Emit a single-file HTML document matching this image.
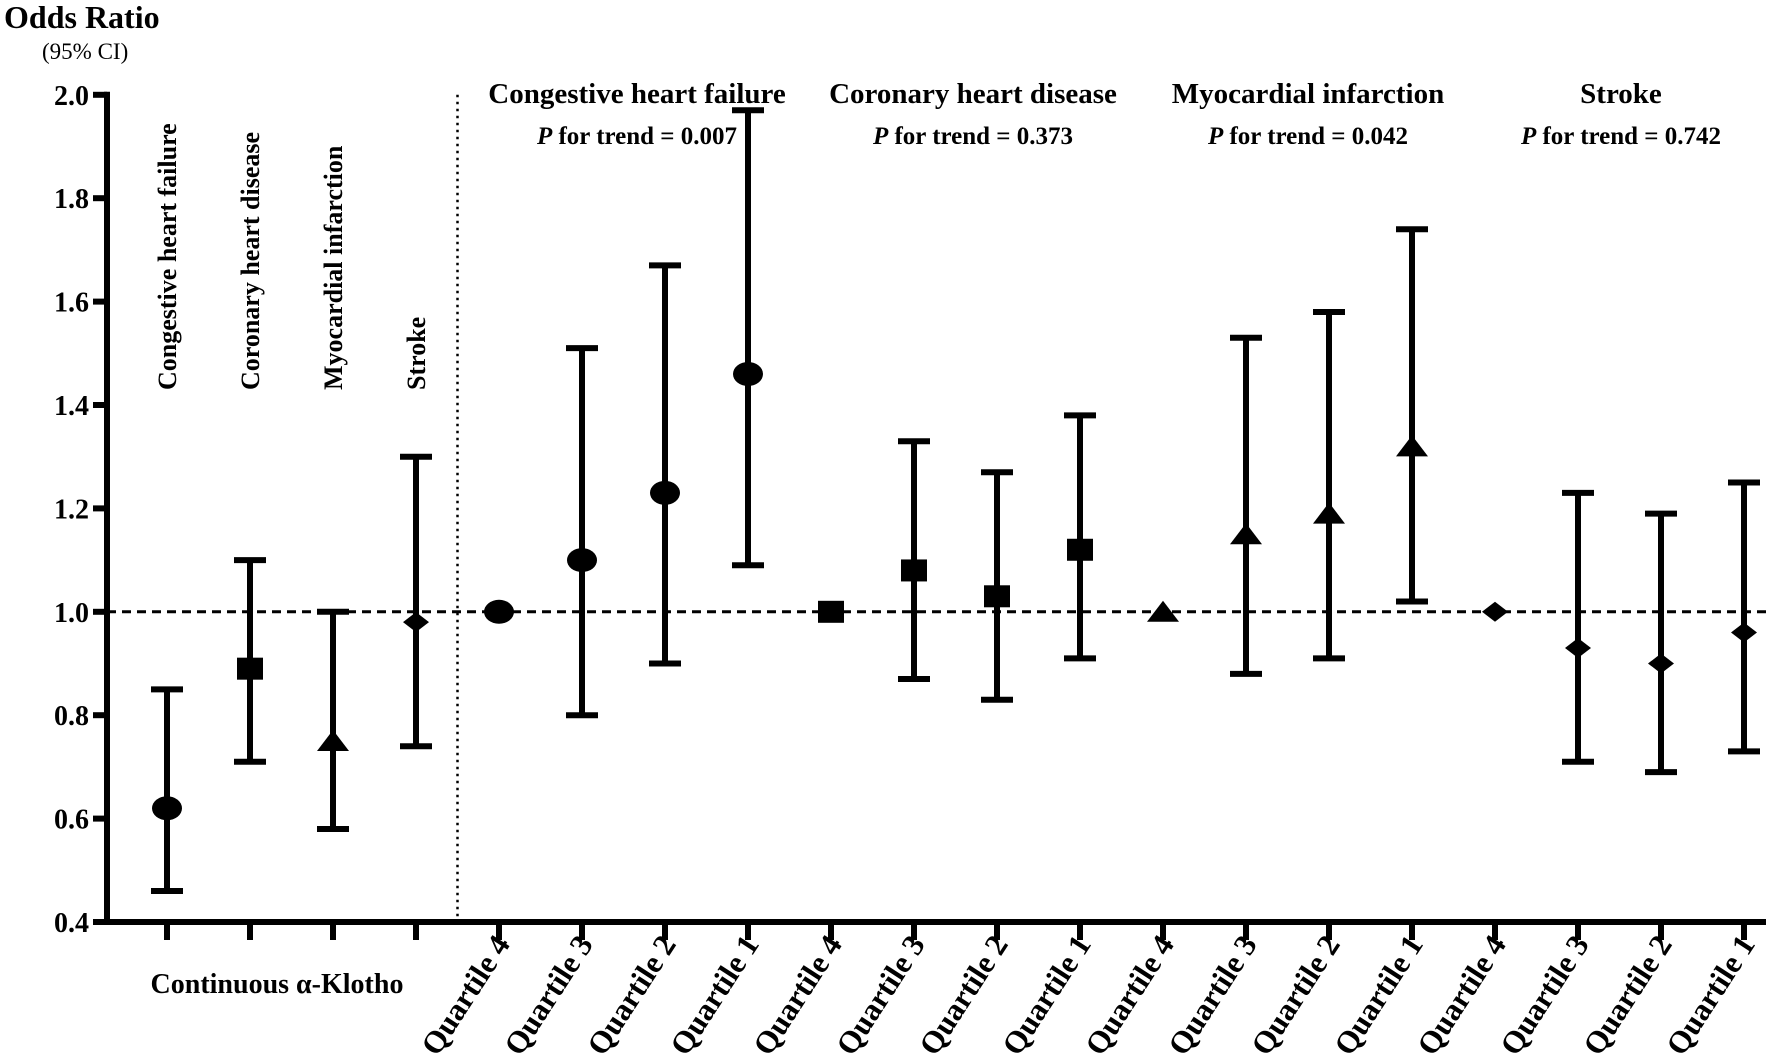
<!DOCTYPE html>
<html><head><meta charset="utf-8"><style>
html,body{margin:0;padding:0;background:#fff;}
svg{display:block;font-family:"Liberation Serif",serif;font-weight:bold;}
</style></head><body>
<svg id="chart" width="1772" height="1060" viewBox="0 0 1772 1060" xmlns="http://www.w3.org/2000/svg">
<text x="4" y="28" font-size="32">Odds Ratio</text>
<text x="42" y="59" font-size="23" font-weight="normal">(95% CI)</text>
<g id="plot"></g>
</svg>
<script>
const categories = ["Congestive heart failure","Coronary heart disease","Myocardial infarction","Stroke",
 "Quartile 4","Quartile 3","Quartile 2","Quartile 1",
 "Quartile 4","Quartile 3","Quartile 2","Quartile 1",
 "Quartile 4","Quartile 3","Quartile 2","Quartile 1",
 "Quartile 4","Quartile 3","Quartile 2","Quartile 1"];
const orValues = [0.62,0.89,0.75,0.98, 1.00,1.10,1.23,1.46, 1.00,1.08,1.03,1.12, 1.00,1.15,1.19,1.32, 1.00,0.93,0.90,0.96];
const ciLower = [0.46,0.71,0.58,0.74, null,0.80,0.90,1.09, null,0.87,0.83,0.91, null,0.88,0.91,1.02, null,0.71,0.69,0.73];
const ciUpper = [0.85,1.10,1.00,1.30, null,1.51,1.67,1.97, null,1.33,1.27,1.38, null,1.53,1.58,1.74, null,1.23,1.19,1.25];
const markers = ["circle","square","triangle","diamond", "circle","circle","circle","circle", "square","square","square","square", "triangle","triangle","triangle","triangle", "diamond","diamond","diamond","diamond"];
const yTicks = [0.4,0.6,0.8,1.0,1.2,1.4,1.6,1.8,2.0];
const groupTitles = ["Congestive heart failure","Coronary heart disease","Myocardial infarction","Stroke"];
const pTrends = ["0.007","0.373","0.042","0.742"];

const NS="http://www.w3.org/2000/svg";
const plot=document.getElementById('plot');
const X0=167, DX=83, AXX=107, AXY=922;
const titleCenters=[637,973,1308,1621];
function xPos(i){return X0+i*DX;}
function yPos(v){return AXY-(v-0.4)/0.2*103.4;}
function mk(tag,attrs,parent){const e=document.createElementNS(NS,tag);for(const k in attrs)e.setAttribute(k,attrs[k]);(parent||plot).appendChild(e);return e;}

let ref=mk('line',{x1:AXX,x2:1766,y1:yPos(1),y2:yPos(1),stroke:'#000','stroke-width':3,'stroke-dasharray':'9 6'});


let dv=mk('line',{x1:(xPos(3)+xPos(4))/2,x2:(xPos(3)+xPos(4))/2,y1:yPos(2.0),y2:AXY,stroke:'#000','stroke-width':2.5,'stroke-dasharray':'2.5 4.5'});


let ya=mk('line',{x1:AXX,x2:AXX,y1:yPos(2.0)-3,y2:AXY+3,stroke:'#000','stroke-width':6});


let xa=mk('line',{x1:AXX-3,x2:1766,y1:AXY,y2:AXY,stroke:'#000','stroke-width':6});


yTicks.forEach(v=>{
  let t=mk('line',{x1:AXX-14,x2:AXX,y1:yPos(v),y2:yPos(v),stroke:'#000','stroke-width':6});
  
  
  let l=mk('text',{x:AXX-18,y:yPos(v)+10,'font-size':28,'text-anchor':'end'});
  l.textContent=v.toFixed(1);
  
  
});
categories.forEach((c,i)=>{
  const x=xPos(i);
  let t=mk('line',{x1:x,x2:x,y1:AXY,y2:AXY+18,stroke:'#000','stroke-width':6});
  
  
  let l;
  if(i<4){
    l=mk('text',{x:x+9,y:390,'font-size':26,transform:'rotate(-90 '+(x+9)+' 390)'});
  } else {
    l=mk('text',{x:x+12,y:944,'font-size':31,'text-anchor':'end',transform:'rotate(-57 '+(x+12)+' 944)'});
  }
  l.textContent=c;
  
  
});
let cl=mk('text',{x:277,y:993,'font-size':28,'text-anchor':'middle'});
cl.textContent='Continuous \u03b1-Klotho';


groupTitles.forEach((g,k)=>{
  const cx=titleCenters[k];
  let t=mk('text',{x:cx,y:103,'font-size':29,'text-anchor':'middle'});
  t.textContent=g;
  
  
  let p=mk('text',{x:cx,y:144,'font-size':25,'text-anchor':'middle'});
  p.innerHTML='<tspan font-style="italic">P</tspan> for trend = '+pTrends[k];
  
  
});
orValues.forEach((v,i)=>{
  const x=xPos(i);
  if(ciLower[i]!==null){
    const y1=yPos(ciLower[i]), y2=yPos(ciUpper[i]);
    let e=mk('path',{d:'M'+x+' '+y1+'V'+y2+'M'+(x-16)+' '+y1+'H'+(x+16)+'M'+(x-16)+' '+y2+'H'+(x+16),stroke:'#000','stroke-width':6,fill:'none'});
    
    
  }
  const y=yPos(v); let m;
  if(markers[i]==='circle') m=mk('ellipse',{cx:x,cy:y,rx:15,ry:12,fill:'#000'});
  else if(markers[i]==='square') m=mk('rect',{x:x-13,y:y-11,width:26,height:22,fill:'#000'});
  else if(markers[i]==='triangle') m=mk('polygon',{points:(x-16)+','+(y+10)+' '+(x+16)+','+(y+10)+' '+x+','+(y-11),fill:'#000'});
  else m=mk('polygon',{points:(x-13)+','+y+' '+x+','+(y-10)+' '+(x+13)+','+y+' '+x+','+(y+10),fill:'#000'});
  
  
});
</script>
</body></html>
